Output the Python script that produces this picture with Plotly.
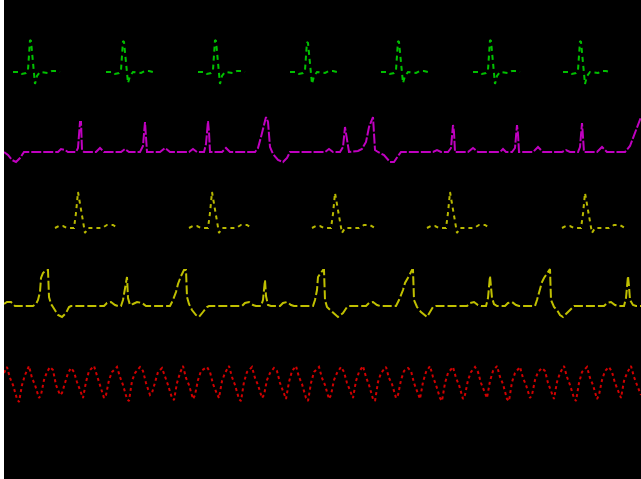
import plotly.graph_objects as go

# ---- data (time in samples, amplitude relative to each trace's baseline) ----
green_t = [13,20,22,26,28,30,31,33,35,37,40,48,52,56,60,None,
           106,113,115,119,121,123,124,126,128,130,133,141,145,149,153,None,
           198,205,207,211,213,215,216,218,220,222,225,233,237,241,245,None,
           290,297,299,303,305,307,308,310,312,314,317,325,329,333,337,None,
           381,388,390,394,396,398,399,401,403,405,408,416,420,424,428,None,
           473,480,482,486,488,490,491,493,495,497,500,508,512,516,520,None,
           563,570,572,576,578,580,581,583,585,587,590,598,602,606,610]
green_v = [0,0,-2,-1,2,32,31,7,-12,-4,0,-1,1,1,0,None,
           0,0,-2,-1,2,31,30,6,-11,-4,0,-1,1,1,0,None,
           0,0,-2,-1,2,32,31,7,-12,-4,0,-1,1,1,0,None,
           0,0,-2,-1,2,30,29,6,-12,-4,0,-1,1,1,0,None,
           0,0,-2,-1,2,31,30,7,-11,-4,0,-1,1,1,0,None,
           0,0,-2,-1,2,32,31,7,-12,-4,0,-1,1,1,0,None,
           0,0,-2,-1,2,31,30,6,-12,-4,0,-1,1,1,0]

magenta_t = [4,8,12,16,20,24,58,61,65,68,76,78,80,81,82,84,96,100,104,121,125,129,
             140,143,145,146,147,160,165,170,189,193,197,204,206,208,209,210,222,226,230,
             255,258,261,263,266,268,270,273,278,283,287,290,325,329,333,340,343,345,347,349,
             358,362,366,369,373,375,378,384,390,394,398,401,433,437,441,448,451,453,454,455,
             468,473,478,500,503,506,512,515,517,518,519,533,538,543,562,566,570,578,580,582,
             583,584,597,602,607,625,630,635,641]
magenta_v = [0,-3,-8,-10,-6,0,0,3,2,0,0,4,30,30,2,0,0,4,0,0,3,0,
             0,6,30,18,0,0,4,0,0,3,0,0,8,31,20,0,0,4,0,
             0,4,15,22,35,30,5,-2,-8,-10,-6,0,0,3,0,0,5,25,10,0,
             1,3,10,25,35,2,0,-3,-10,-10,-4,0,0,2,0,0,4,27,20,0,
             0,4,0,0,3,0,0,4,27,18,0,0,5,0,0,2,0,0,5,29,
             15,0,0,5,0,0,6,20,35]

yellow1_t = [55,59,63,67,74,76,78,79,81,83,85,88,102,107,113,118,None,
             189,193,197,201,208,210,212,213,215,217,219,222,236,241,247,252,None,
             312,316,320,324,331,333,335,336,338,340,342,345,359,364,370,375,None,
             427,431,435,439,446,448,450,451,453,455,457,460,474,479,485,490,None,
             562,566,570,574,581,583,585,586,588,590,592,595,609,614,620,625]
yellow1_v = [0,2,2,0,0,15,36,30,18,8,-5,0,0,3,3,0,None,
             0,2,2,0,0,15,36,30,18,8,-5,0,0,3,3,0,None,
             0,2,2,0,0,14,35,29,17,8,-5,0,0,3,3,0,None,
             0,2,2,0,0,15,36,30,18,8,-5,0,0,3,3,0,None,
             0,2,2,0,0,14,35,29,18,8,-5,0,0,3,3,0]

yellow2_t = [4,7,11,15,33,36,38,40,41,43,46,48,49,51,53,55,58,62,66,69,71,
             104,107,111,115,118,121,123,125,127,128,130,133,137,142,146,
             170,173,176,178,181,184,186,187,189,192,196,199,203,207,209,
             242,245,249,253,256,261,263,265,266,268,271,280,283,287,291,294,
             313,315,317,318,321,323,324,325,327,331,335,338,343,347,349,
             366,369,373,377,380,396,399,403,405,409,412,413,414,417,421,427,431,433,436,
             467,470,474,478,481,486,488,490,491,492,494,497,505,508,512,516,519,
             535,537,540,542,544,547,550,551,554,557,560,563,568,572,574,
             604,607,611,615,618,624,626,628,629,630,633,636,641]
yellow2_v = [2,4,4,0,0,2,6,14,28,33,36,36,9,2,-1,-4,-9,-11,-7,-1,0,
             0,3,4,1,0,0,6,18,29,8,1,2,4,3,0,
             0,6,14,22,30,36,36,9,2,-4,-9,-11,-6,-1,0,
             0,3,4,1,0,0,6,26,10,1,0,0,3,4,1,0,
             0,6,16,29,33,36,36,6,-1,-5,-9,-11,-7,-1,0,
             0,3,4,1,0,0,6,16,23,30,36,36,6,-1,-6,-11,-5,-1,0,
             0,3,4,1,0,0,8,30,18,8,2,0,0,3,4,1,0,
             0,6,16,24,28,32,37,6,-1,-4,-9,-11,-6,-1,0,
             0,3,4,1,0,0,8,30,20,6,1,0,0]

red_t = [4,
         7,10,13,17,19,22,25, 29,32,35,39,41,44,47, 50,53,56,60,62,65,68,
         71,74,77,81,83,86,89, 94,97,100,104,106,109,112, 117,120,123,127,129,132,135,
         140,143,146,150,152,155,158, 162,165,168,172,174,177,180, 183,186,189,193,195,198,201,
         207,210,213,217,219,222,225, 229,232,235,239,241,244,247, 252,255,258,262,264,267,270,
         274,277,280,284,286,289,292, 296,299,302,306,308,311,314, 319,322,325,329,331,334,337,
         341,344,347,351,353,356,359, 363,366,369,373,375,378,381, 386,389,392,396,398,401,404,
         408,411,414,418,420,423,426, 430,433,436,440,442,445,448, 453,456,459,463,465,468,471,
         475,478,481,485,487,490,493, 497,500,503,507,509,512,515, 520,523,526,530,532,535,538,
         542,545,548,552,554,557,560, 564,567,570,574,576,579,582, 587,590,593,597,599,602,605,
         609,612,615,619,621,624,627, 631,634,637,641]
red_v = [12,
         18,7,0,-14,-17,0,10, 19,7,0,-13,-10,5,13, 18,15,0,-10,-8,2,12,
         17,13,3,-8,-13,3,14, 19,10,1,-13,-10,5,13, 18,8,0,-14,-16,4,12,
         18,14,2,-10,-8,3,13, 17,9,0,-13,-15,2,12, 19,7,0,-14,-10,5,14,
         18,13,1,-9,-13,4,12, 19,8,0,-14,-16,3,13, 18,7,0,-13,-10,5,12,
         17,14,2,-10,-14,3,14, 19,8,1,-13,-16,2,13, 18,7,0,-14,-10,5,12,
         18,13,2,-9,-13,4,13, 19,8,0,-14,-16,3,12, 18,7,1,-13,-10,5,14,
         17,14,2,-10,-14,3,13, 19,8,0,-13,-16,2,12, 18,7,0,-14,-10,5,13,
         18,13,2,-9,-13,4,14, 19,8,1,-14,-16,3,12, 18,7,0,-13,-10,5,13,
         17,14,2,-10,-14,3,12, 19,8,0,-13,-16,2,13, 18,7,0,-14,-10,5,14,
         18,13,2,-9,-13,4,12, 19,8,0,-10]

# ---- styling / layout ----
traces = [
    (green_t, green_v, 72, "#00c000", "5px,4px", 2),
    (magenta_t, magenta_v, 152, "#c000c0", "10px,2px", 2),
    (yellow1_t, yellow1_v, 228, "#b8b800", "4px,4px", 2),
    (yellow2_t, yellow2_v, 306, "#c0c000", "9px,3px", 2),
    (red_t, red_v, 385, "#d00000", "3px,3px", 2),
]

fig = go.Figure()
for t, v, base, col, dash, w in traces:
    y = [None if a is None else base - a for a in v]
    fig.add_trace(go.Scatter(x=t, y=y, mode="lines", connectgaps=False,
                             line=dict(color=col, width=w, dash=dash),
                             hoverinfo="skip", showlegend=False))

fig.update_layout(
    width=641, height=479,
    margin=dict(l=4, r=0, t=0, b=0),
    paper_bgcolor="white", plot_bgcolor="black",
    xaxis=dict(range=[4, 641], visible=False, fixedrange=True),
    yaxis=dict(range=[479, 0], visible=False, fixedrange=True),
    showlegend=False,
)
fig.write_html("out.html",
               config={"displayModeBar": False, "staticPlot": True},
               post_script="document.body.style.margin='0';document.body.style.overflow='hidden';")
